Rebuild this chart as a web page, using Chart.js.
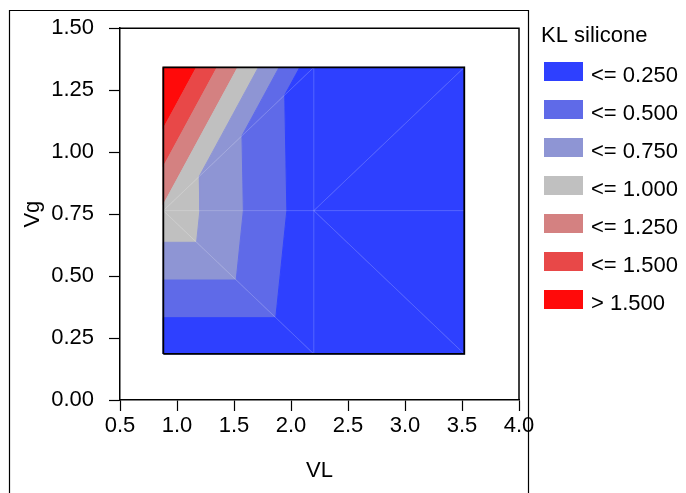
<!DOCTYPE html>
<html>
<head>
<meta charset="utf-8">
<script src="https://cdn.jsdelivr.net/npm/chart.js@4.4.1/dist/chart.umd.min.js"></script>
<style>
  html, body { margin: 0; padding: 0; background: #fff; }
  #wrap { width: 686px; height: 493px; }
</style>
</head>
<body>
<div id="wrap"><canvas id="chart" width="686" height="493"></canvas></div>
<script>
'use strict';

// design grid (VL across, Vg up) and the KL silicone value at each node
const vlValues = [0.88, 2.20, 3.52];
const vgValues = [0.186, 0.764, 1.342];
const klRowLow = [0.01, 0.01, 0.02];    // Vg = 0.186
const klRowMid = [0.96, 0.095, 0.06];   // Vg = 0.764
const klRowHigh = [1.90, 0.08, 0.05];   // Vg = 1.342

const bandLimits = [0.25, 0.5, 0.75, 1.0, 1.25, 1.5];
const bandLabels = ['<= 0.250', '<= 0.500', '<= 0.750', '<= 1.000', '<= 1.250', '<= 1.500', '> 1.500'];
const bandColors = ['#2e40ff', '#5f6ae8', '#8e95d4', '#c0c0c0', '#d48181', '#e84848', '#ff0a0a'];

const xTicks = [0.5, 1.0, 1.5, 2.0, 2.5, 3.0, 3.5, 4.0];
const yTicks = [0.00, 0.25, 0.50, 0.75, 1.00, 1.25, 1.50];

const FONT = 'Liberation Sans, Arial, sans-serif';
const FONT_SIZE = 22;

(function () {
  let klRows = [klRowLow, klRowMid, klRowHigh];
  let node = (i, j) => ({ x: vlValues[i], y: vgValues[j], z: klRows[j][i] });

  // triangulate the grid the same way the original plot does
  let triangles = [];
  for (let j = 0; j < vgValues.length - 1; j++) {
    for (let i = 0; i < vlValues.length - 1; i++) {
      let p00 = node(i, j), p10 = node(i + 1, j), p01 = node(i, j + 1), p11 = node(i + 1, j + 1);
      if (j === 0) {
        triangles.push([p01, p00, p10], [p01, p10, p11]);
      } else {
        triangles.push([p00, p10, p11], [p00, p11, p01]);
      }
    }
  }

  // keep the part of a polygon where f(z) >= 0
  let clip = (poly, f) => {
    let out = [];
    for (let k = 0; k < poly.length; k++) {
      let a = poly[k], b = poly[(k + 1) % poly.length];
      let fa = f(a.z), fb = f(b.z);
      if (fa >= 0) out.push(a);
      if ((fa >= 0) !== (fb >= 0)) {
        let t = fa / (fa - fb);
        out.push({ x: a.x + t * (b.x - a.x), y: a.y + t * (b.y - a.y), z: a.z + t * (b.z - a.z) });
      }
    }
    return out;
  };

  let datasets = [];
  for (let b = 0; b < bandColors.length; b++) {
    let lo = b === 0 ? -Infinity : bandLimits[b - 1];
    let hi = b === bandLimits.length ? Infinity : bandLimits[b];
    triangles.forEach(tri => {
      let poly = clip(clip(tri, z => z - lo), z => hi - z);
      if (poly.length < 3) return;
      let pts = poly.map(p => ({ x: p.x, y: p.y }));
      pts.push(pts[0]);
      datasets.push({
        data: pts,
        showLine: true,
        fill: 'shape',
        backgroundColor: bandColors[b],
        borderColor: bandColors[b],
        borderWidth: 1,
        pointRadius: 0,
        tension: 0,
        order: 10
      });
    });
  }

  // faint seams along the triangle edges
  let last = vlValues.length - 1;
  let seams = [
    [node(0, 1), node(last, 1)],
    [node(1, 0), node(1, 2)],
    [node(0, 1), node(1, 2)],
    [node(0, 1), node(1, 0)],
    [node(1, 1), node(2, 2)],
    [node(1, 1), node(2, 0)]
  ];
  seams.forEach(s => datasets.push({
    data: s.map(p => ({ x: p.x, y: p.y })),
    showLine: true,
    fill: false,
    borderColor: 'rgba(255,255,255,0.2)',
    borderWidth: 1,
    pointRadius: 0,
    order: 2
  }));

  // outline of the data region
  datasets.push({
    data: [node(0, 0), node(last, 0), node(last, 2), node(0, 2), node(0, 0)].map(p => ({ x: p.x, y: p.y })),
    showLine: true,
    fill: false,
    borderColor: '#000',
    borderWidth: 1.8,
    pointRadius: 0,
    order: 1
  });

  let framePlugin = {
    id: 'frame',
    beforeDraw(chart) {
      let ctx = chart.ctx;
      let a = chart.chartArea;
      ctx.save();
      ctx.strokeStyle = '#000';
      ctx.lineWidth = 1.2;
      ctx.beginPath();
      ctx.moveTo(9.5, 493);
      ctx.lineTo(9.5, 10.5);
      ctx.lineTo(528.5, 10.5);
      ctx.lineTo(528.5, 493);
      ctx.stroke();
      ctx.lineWidth = 1.5;
      ctx.beginPath();
      ctx.moveTo(a.left, a.top);
      ctx.lineTo(a.right, a.top);
      ctx.lineTo(a.right, a.bottom);
      ctx.stroke();
      ctx.restore();
    }
  };

  let legendPlugin = {
    id: 'bandLegend',
    afterDraw(chart) {
      let ctx = chart.ctx;
      ctx.save();
      ctx.font = FONT_SIZE + 'px ' + FONT;
      ctx.fillStyle = '#000';
      ctx.textBaseline = 'middle';
      ctx.fillText('KL silicone', 541, 36);
      bandLabels.forEach((label, k) => {
        let top = 62 + k * 38;
        ctx.fillStyle = bandColors[k];
        ctx.fillRect(544, top, 39, 19);
        ctx.fillStyle = '#000';
        ctx.fillText(label, 591, top + 14);
      });
      ctx.restore();
    }
  };

  let axisFont = { family: FONT, size: FONT_SIZE };

  new Chart(document.getElementById('chart').getContext('2d'), {
    type: 'scatter',
    data: { datasets },
    options: {
      responsive: false,
      animation: false,
      events: [],
      layout: { padding: { top: 25, right: 167, left: 0, bottom: 0 } },
      plugins: { legend: { display: false }, tooltip: { enabled: false } },
      scales: {
        x: {
          type: 'linear',
          min: 0.5,
          max: 4.0,
          afterBuildTicks: s => { s.ticks = xTicks.map(v => ({ value: v })); },
          afterFit: s => { s.height = 93; },
          ticks: { color: '#000', font: axisFont, padding: 2, callback: v => v.toFixed(1) },
          grid: { drawOnChartArea: false, drawTicks: true, tickLength: 11, color: '#000', tickWidth: 1.2 },
          border: { display: true, color: '#000', width: 1.5 },
          title: { display: true, text: 'VL', color: '#000', font: axisFont, padding: { top: 0, bottom: 9 } }
        },
        y: {
          type: 'linear',
          min: 0,
          max: 1.5,
          afterBuildTicks: s => { s.ticks = yTicks.map(v => ({ value: v })); },
          afterFit: s => { s.width = 120; },
          ticks: { color: '#000', font: axisFont, padding: 15, callback: v => v.toFixed(2) },
          grid: { drawOnChartArea: false, drawTicks: true, tickLength: 11, color: '#000', tickWidth: 1.2 },
          border: { display: true, color: '#000', width: 1.5 },
          title: { display: true, text: 'Vg', color: '#000', font: axisFont, padding: { top: 20, bottom: 0 } }
        }
      }
    },
    plugins: [framePlugin, legendPlugin]
  });
})();
</script>
</body>
</html>
